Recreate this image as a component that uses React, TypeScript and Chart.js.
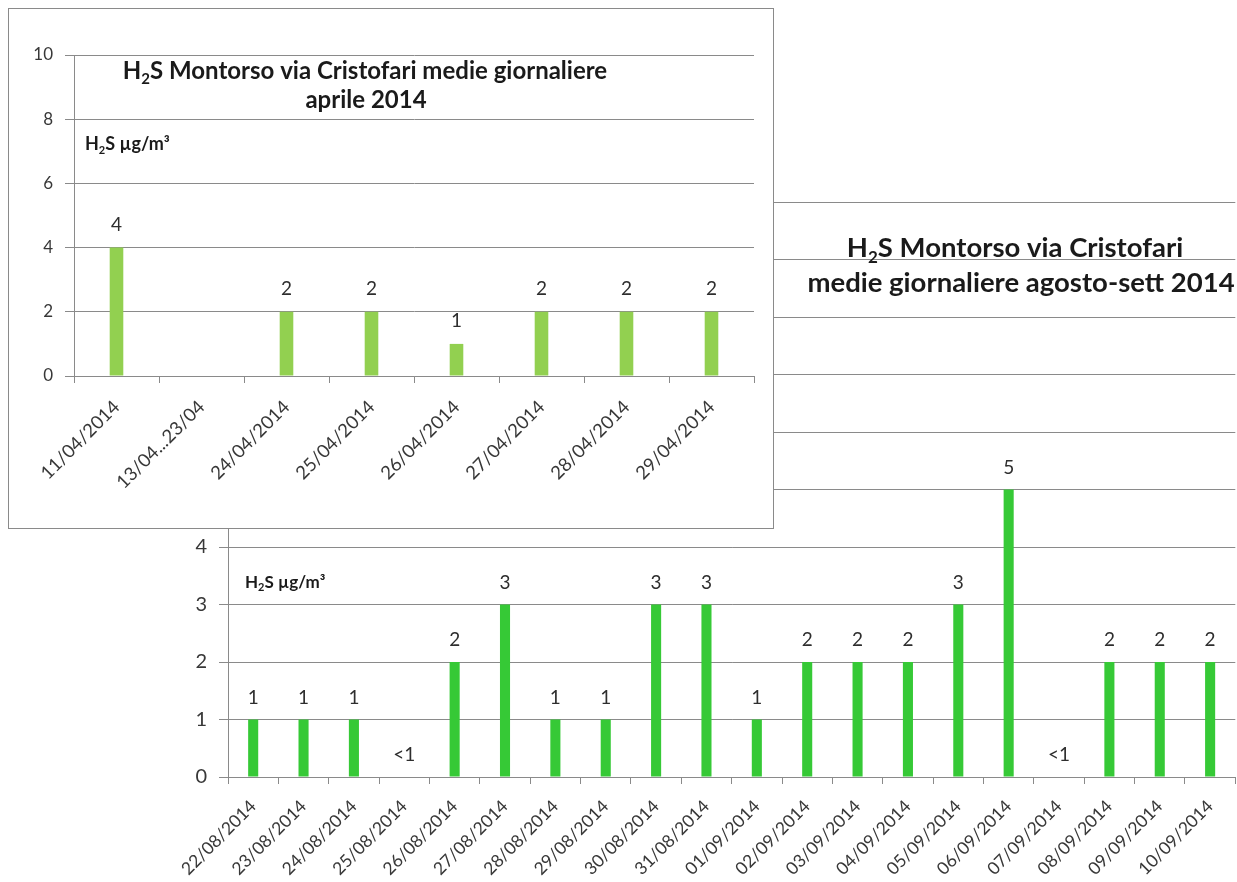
import { useEffect, useRef } from 'react';
import { Chart, registerables } from 'chart.js';

Chart.register(...registerables);

// April 2014 daily means (H2S, µg/m³); the 13–23 April gap has no data
const aprilDays = [
  '11/04/2014', '13/04...23/04', '24/04/2014', '25/04/2014',
  '26/04/2014', '27/04/2014', '28/04/2014', '29/04/2014',
];
const aprilValues: (number | null)[] = [4, null, 2, 2, 1, 2, 2, 2];
const aprilTicks = [0, 2, 4, 6, 8, 10];

// August–September 2014 daily means; 0 stands for a mean below 1, printed "<1"
const summerDays = [
  '22/08/2014', '23/08/2014', '24/08/2014', '25/08/2014', '26/08/2014',
  '27/08/2014', '28/08/2014', '29/08/2014', '30/08/2014', '31/08/2014',
  '01/09/2014', '02/09/2014', '03/09/2014', '04/09/2014', '05/09/2014',
  '06/09/2014', '07/09/2014', '08/09/2014', '09/09/2014', '10/09/2014',
];
const summerValues = [1, 1, 1, 0, 2, 3, 1, 1, 3, 3, 1, 2, 2, 2, 3, 5, 0, 2, 2, 2];
const summerTicks = [0, 1, 2, 3, 4, 5, 6, 7, 8, 9, 10];

type Run = { text: string; sub?: boolean };
const h2s = (rest: string): Run[] => [{ text: 'H' }, { text: '2', sub: true }, { text: rest }];

const aprilTitle: Run[][] = [h2s('S Montorso via Cristofari medie giornaliere'), [{ text: 'aprile 2014' }]];
const summerTitle: Run[][] = [h2s('S Montorso via Cristofari'), [{ text: 'medie giornaliere agosto-sett 2014' }]];
const unitLabel: Run[] = h2s('S µg/m³');

const FONT = 'Lato, "Open Sans", sans-serif';
const TEXT = '#383838';
const GRID = '#8a8a8a';

function drawRuns(
  ctx: CanvasRenderingContext2D,
  runs: Run[],
  x: number,
  y: number,
  size: number,
  align: 'left' | 'center',
  color: string,
) {
  const bigFont = `bold ${size}px ${FONT}`;
  const smallFont = `bold ${Math.round(size * 0.62)}px ${FONT}`;
  ctx.save();
  ctx.textAlign = 'left';
  ctx.textBaseline = 'alphabetic';
  ctx.fillStyle = color;
  const widths = runs.map((r) => {
    ctx.font = r.sub ? smallFont : bigFont;
    return ctx.measureText(r.text).width;
  });
  const total = widths.reduce((a, b) => a + b, 0);
  let cx = align === 'center' ? x - total / 2 : x;
  runs.forEach((r, i) => {
    ctx.font = r.sub ? smallFont : bigFont;
    ctx.fillText(r.text, cx, r.sub ? y + size * 0.2 : y);
    cx += widths[i];
  });
  ctx.restore();
}

type Overlay = {
  title: Run[][];
  titleSize: number;
  titleAt: [number, number][];
  unitAt: [number, number];
  unitSize: number;
  valueSize: number;
  valueGap: number;
};

// Writes each bar's value above it, plus the title block and unit label
const overlayPlugin = {
  id: 'overlay',
  afterDatasetsDraw(chart: Chart, _args: unknown, opts: Overlay) {
    const ctx = chart.ctx;
    const meta = chart.getDatasetMeta(0);
    const values = chart.data.datasets[0].data as (number | null)[];
    ctx.save();
    ctx.font = `${opts.valueSize}px ${FONT}`;
    ctx.fillStyle = '#2e2e2e';
    ctx.textAlign = 'center';
    ctx.textBaseline = 'alphabetic';
    meta.data.forEach((el: any, i: number) => {
      const v = values[i];
      if (v === null || v === undefined) return;
      const text = v === 0 ? '<1' : String(v);
      ctx.fillText(text, el.x, el.y - opts.valueGap);
    });
    ctx.restore();
    opts.title.forEach((line, i) => {
      drawRuns(ctx, line, opts.titleAt[i][0], opts.titleAt[i][1], opts.titleSize, 'center', '#1a1a1a');
    });
    drawRuns(ctx, unitLabel, opts.unitAt[0], opts.unitAt[1], opts.unitSize, 'left', '#1a1a1a');
  },
};

function makeChart(
  canvas: HTMLCanvasElement,
  cfg: {
    labels: string[];
    values: (number | null)[];
    ticks: number[];
    color: string;
    barPct: number;
    padding: { top: number; right: number; left: number; bottom: number };
    yWidth: number;
    xHeight: number;
    yFont: number;
    xFont: number;
    xPad: number;
    overlay: Overlay;
  },
) {
  return new Chart(canvas, {
    type: 'bar',
    data: {
      labels: cfg.labels,
      datasets: [
        {
          data: cfg.values,
          backgroundColor: cfg.color,
          borderWidth: 0,
          categoryPercentage: 1,
          barPercentage: cfg.barPct,
        },
      ],
    },
    options: {
      responsive: false,
      animation: false,
      devicePixelRatio: 1,
      layout: { padding: cfg.padding },
      plugins: {
        legend: { display: false },
        title: { display: false },
        tooltip: { enabled: false },
        overlay: cfg.overlay,
      } as any,
      scales: {
        x: {
          offset: true,
          grid: {
            offset: true,
            drawOnChartArea: false,
            drawTicks: true,
            tickLength: 7,
            color: GRID,
          },
          border: { color: GRID, width: 1 },
          ticks: {
            autoSkip: false,
            minRotation: 45,
            maxRotation: 45,
            padding: cfg.xPad,
            color: TEXT,
            font: { family: FONT, size: cfg.xFont },
          },
          afterFit: (scale: any) => {
            scale.height = cfg.xHeight;
          },
        },
        y: {
          min: cfg.ticks[0],
          max: cfg.ticks[cfg.ticks.length - 1],
          afterBuildTicks: (scale: any) => {
            scale.ticks = cfg.ticks.map((v) => ({ value: v }));
          },
          grid: { color: GRID, tickLength: 9, lineWidth: 1 },
          border: { color: GRID, width: 1 },
          ticks: {
            padding: 12,
            color: TEXT,
            font: { family: FONT, size: cfg.yFont },
          },
          afterFit: (scale: any) => {
            scale.width = cfg.yWidth;
          },
        },
      },
    },
    plugins: [overlayPlugin],
  });
}

export default function App() {
  const bigRef = useRef<HTMLCanvasElement>(null);
  const insetRef = useRef<HTMLCanvasElement>(null);

  useEffect(() => {
    const big = makeChart(bigRef.current!, {
      labels: summerDays,
      values: summerValues,
      ticks: summerTicks,
      color: '#36c936',
      barPct: 0.2,
      padding: { top: 202, right: 1, left: 0, bottom: 0 },
      yWidth: 228,
      xHeight: 105,
      yFont: 20,
      xFont: 17.5,
      xPad: 12,
      overlay: {
        title: summerTitle,
        titleSize: 27.5,
        titleAt: [[1015, 257], [1021, 292]],
        unitAt: [245, 588],
        unitSize: 17,
        valueSize: 19,
        valueGap: 16,
      },
    });
    const inset = makeChart(insetRef.current!, {
      labels: aprilDays,
      values: aprilValues,
      ticks: aprilTicks,
      color: '#92d050',
      barPct: 0.16,
      padding: { top: 46, right: 19, left: 0, bottom: 0 },
      yWidth: 65,
      xHeight: 152,
      yFont: 17,
      xFont: 18.5,
      xPad: 13,
      overlay: {
        title: aprilTitle,
        titleSize: 24,
        titleAt: [[356, 70], [357, 99]],
        unitAt: [76, 141],
        unitSize: 18,
        valueSize: 19,
        valueGap: 17,
      },
    });
    return () => {
      big.destroy();
      inset.destroy();
    };
  }, []);

  return (
    <div style={{ position: 'absolute', left: 0, top: 0, width: 1237, height: 882, background: '#fff', overflow: 'hidden' }}>
      <canvas ref={bigRef} width={1237} height={882} style={{ position: 'absolute', left: 0, top: 0, width: 1237, height: 882 }} />
      <div
        style={{
          position: 'absolute',
          left: 8,
          top: 8,
          width: 766,
          height: 521,
          boxSizing: 'border-box',
          border: `1px solid ${GRID}`,
          background: '#fff',
        }}
      >
        <canvas ref={insetRef} width={764} height={519} style={{ display: 'block', width: 764, height: 519 }} />
      </div>
    </div>
  );
}
